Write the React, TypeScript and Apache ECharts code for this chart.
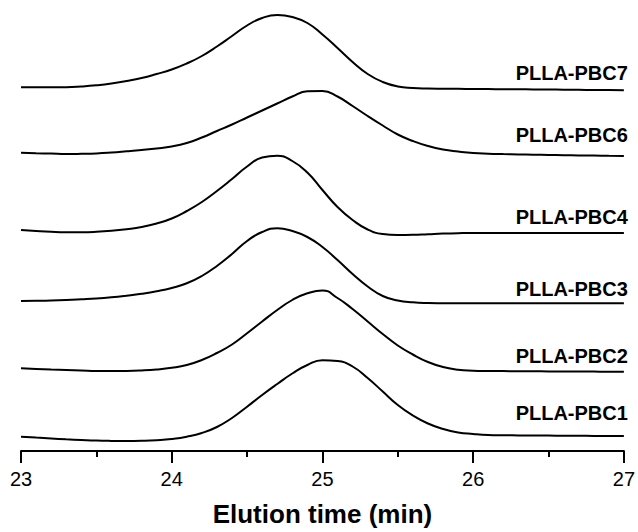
import React, { useEffect, useRef } from "react";
import * as echarts from "echarts";

// Elution time grid (min)
const elutionTimes: number[] = [
  23.0, 23.1, 23.2, 23.3, 23.4, 23.5, 23.6, 23.7, 23.8, 23.9,
  24.0, 24.1, 24.2, 24.3, 24.4, 24.5, 24.6, 24.7, 24.8, 24.9,
  25.0, 25.1, 25.2, 25.3, 25.4, 25.5, 25.6, 25.7, 25.8, 25.9,
  26.0, 26.1, 26.2, 26.3, 26.4, 26.5, 26.6, 26.7, 26.8, 26.9, 27.0,
];

const seriesNames: string[] = [
  "PLLA-PBC7", "PLLA-PBC6", "PLLA-PBC4", "PLLA-PBC3", "PLLA-PBC2", "PLLA-PBC1",
];

// Stacked (offset) detector signal, arbitrary units
const pbc7: number[] = [
  363.7, 363.7, 363.7, 363.8, 364.5, 365.7, 367.5, 370, 373, 377,
  381.5, 387.5, 395, 404.5, 415, 425.5, 433, 436, 434, 428,
  416.5, 403, 389, 377, 369, 364.5, 363, 362.5, 362.3, 362.2,
  362, 361.9, 361.8, 361.7, 361.6, 361.5, 361.3, 361.2, 361, 360.9, 360.7,
];
const pbc6: number[] = [
  298.3, 297.8, 297.4, 297, 297.2, 297.6, 298.5, 299.7, 301, 302.5,
  304.5, 308, 313.5, 320, 326.5, 333.5, 340.5, 347.5, 354.5, 359.8,
  360, 354.5, 345, 335, 325.5, 316.5, 310, 305, 301.5, 299.5,
  298, 297.3, 296.9, 296.6, 296.3, 296, 295.8, 295.6, 295.4, 295.2, 295,
];
const pbc4: number[] = [
  221, 220, 219.2, 218.8, 218.8, 219.2, 220.2, 221.8, 224, 227.5,
  232.5, 240, 249, 260, 272, 284.5, 293.5, 295.3, 290, 278.5,
  261, 244, 231, 221.5, 217, 216, 216.2, 216.8, 217.4, 217.8,
  218, 218, 218, 218, 218, 218, 218, 218, 218, 218, 218,
];
const pbc3: number[] = [
  150, 150.2, 150.5, 151, 151.7, 152.5, 153.7, 155.3, 157.2, 159.7,
  163, 167.7, 175, 185, 197, 210, 219, 222.7, 220, 214,
  204, 191, 177, 164.5, 155, 150.5, 148.7, 148, 147.8, 147.7,
  147.7, 147.7, 147.7, 147.7, 147.7, 147.7, 147.7, 147.7, 147.7, 147.7, 147.7,
];
const pbc2: number[] = [
  82.7, 82.1, 81.5, 81, 80.5, 80, 79.9, 80, 80.5, 81.5,
  83.2, 86, 91, 98, 106.5, 117.7, 129.5, 141, 151, 157.7,
  160.6, 153, 142, 129.5, 117, 105.5, 96.5, 89, 84, 81.2,
  80.3, 80, 79.9, 79.8, 79.7, 79.6, 79.5, 79.5, 79.4, 79.3, 79.3,
];
const pbc1: number[] = [
  14.3, 13.4, 12.5, 11.7, 11, 10.4, 10.1, 10, 10.2, 10.8,
  12, 14.3, 18, 24, 33, 44.3, 56, 67, 77.5, 86,
  90.8, 90, 84.5, 73, 59.5, 46, 35.5, 27.5, 22, 18.5,
  17, 16, 15.7, 15.6, 15.5, 15.4, 15.3, 15.2, 15.1, 15, 15,
];

// Vertical level (in signal units) at which each trace's name is written, at t = 27
const labelLevels: number[] = [377.7, 316, 234, 162, 95.2, 38.5];

const xTicks: number[] = [23, 24, 25, 26, 27];

const FONT = "'Liberation Sans', Arial, Helvetica, sans-serif";

export default function App() {
  const ref = useRef<HTMLDivElement>(null);

  useEffect(() => {
    if (!ref.current) return;
    const chart = echarts.init(ref.current, null, { renderer: "svg" });
    const traces = [pbc7, pbc6, pbc4, pbc3, pbc2, pbc1];

    const series: any[] = traces.map((vals, i) => ({
      type: "line",
      name: seriesNames[i],
      data: elutionTimes.map((t, j) => [t, vals[j]]),
      showSymbol: false,
      symbol: "none",
      smooth: 0.5,
      lineStyle: { color: "#000", width: 2 },
      silent: true,
      markPoint: {
        symbol: "circle",
        symbolSize: 0,
        silent: true,
        data: [{ coord: [xTicks[xTicks.length - 1], labelLevels[i]] }],
        label: {
          show: true,
          position: "left",
          distance: -4,
          formatter: seriesNames[i],
          color: "#000",
          fontFamily: FONT,
          fontWeight: "bold",
          fontSize: 20,
        },
      },
    }));

    chart.setOption({
      animation: false,
      backgroundColor: "#fff",
      grid: { left: 21, right: 14, top: 0, bottom: 81, containLabel: false },
      xAxis: {
        type: "value",
        min: xTicks[0],
        max: xTicks[xTicks.length - 1],
        interval: 1,
        name: "Elution time (min)",
        nameLocation: "middle",
        nameGap: 50,
        nameTextStyle: {
          color: "#000",
          fontFamily: FONT,
          fontWeight: "bold",
          fontSize: 26,
        },
        axisLine: { show: true, onZero: false, lineStyle: { color: "#000", width: 2 } },
        axisTick: { show: true, inside: false, length: 12, lineStyle: { color: "#000", width: 2 } },
        minorTick: { show: true, splitNumber: 2, length: 6, lineStyle: { color: "#000", width: 2 } },
        axisLabel: {
          color: "#000",
          fontFamily: FONT,
          fontSize: 20,
          margin: 18,
        },
        splitLine: { show: false },
        minorSplitLine: { show: false },
      },
      yAxis: {
        type: "value",
        min: 0,
        max: 451,
        show: false,
        splitLine: { show: false },
      },
      series,
    });

    return () => chart.dispose();
  }, []);

  return (
    <div
      ref={ref}
      style={{ position: "fixed", left: 0, top: 0, width: 638, height: 532, background: "#fff" }}
    />
  );
}
